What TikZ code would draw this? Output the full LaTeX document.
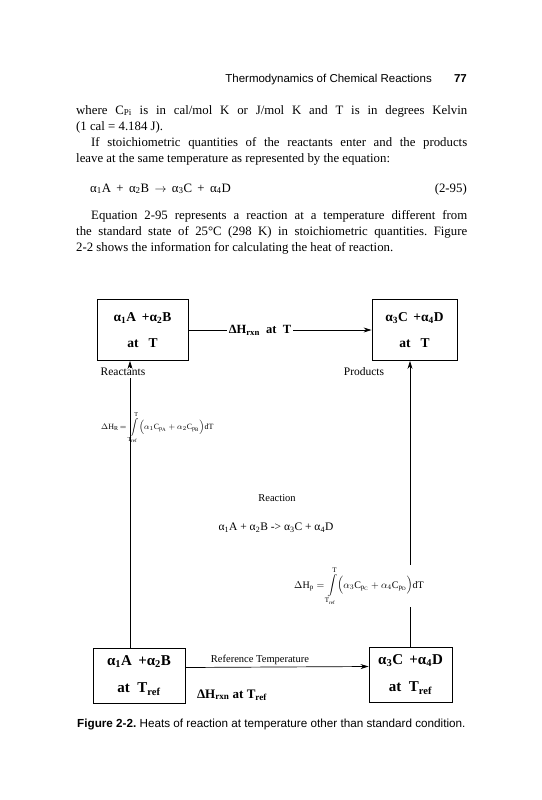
\documentclass[tikz,border=0pt]{standalone}
\usepackage{amsmath}
\usepackage{fontspec}
\setmainfont{Liberation Serif}
\setsansfont{Liberation Sans}
\usetikzlibrary{arrows.meta, positioning, calc}

\newcommand{\fullline}[1]{\makebox[391pt][s]{#1}}
\newcommand{\sub}[1]{\textsubscript{#1}}
\frenchspacing

\begin{document}
\begin{tikzpicture}[x=1pt, y=-1pt,
    every node/.style={inner sep=0pt},
    bodytext/.style={anchor=base west, font=\fontsize{12.8}{16}\selectfont},
    statebox/.style={draw, line width=0.9pt, align=center},
    smalllabel/.style={font=\fontsize{10.5}{12}\selectfont},
    flow/.style={line width=0.7pt},
    flowarrow/.style={flow, -{Stealth[length=8pt, width=5pt]}}]
\useasboundingbox (0,0) rectangle (541,800);

% running head
\node[anchor=base east, font=\sffamily\fontsize{11.5}{13}\selectfont] (head) at (432,82) {Thermodynamics of Chemical Reactions};
\node[anchor=base east, font=\sffamily\bfseries\fontsize{11.5}{13}\selectfont] (page) at (467,82) {77};

% text above the figure
\node[bodytext] (lineA) at (76,114) {\fullline{where C\sub{Pi} is in cal/mol K or J/mol K and T is in degrees Kelvin}};
\node[bodytext] (lineB) at (76,130) {(1 cal = 4.184 J).};
\node[bodytext] (lineC) at (91,146) {\makebox[376pt][s]{If stoichiometric quantities of the reactants enter and the products}};
\node[bodytext] (lineD) at (76,162) {leave at the same temperature as represented by the equation:};
\node[bodytext] (eqn) at (90,192) {α\sub{1}A \,+\, α\sub{2}B \,$\rightarrow$\, α\sub{3}C \,+\, α\sub{4}D};
\node[bodytext, anchor=base east] (eqnum) at (467,192) {(2-95)};
\node[bodytext] (lineE) at (91,219) {\makebox[376pt][s]{Equation 2-95 represents a reaction at a temperature different from}};
\node[bodytext] (lineF) at (76,235) {\fullline{the standard state of 25°C (298 K) in stoichiometric quantities. Figure}};
\node[bodytext] (lineG) at (76,251) {2-2 shows the information for calculating the heat of reaction.};

% the four states
\node[statebox, minimum width=91pt, minimum height=61pt, font=\bfseries\fontsize{13.5}{26}\selectfont] (tl) at (142.5,330) {α\sub{1}A\, +α\sub{2}B\\at\ \ \ T};
\node[statebox, minimum width=85pt, minimum height=61pt, font=\bfseries\fontsize{13.5}{26}\selectfont] (tr) at (414.5,330) {α\sub{3}C\, +α\sub{4}D\\at\ \ \ T};
\node[statebox, minimum width=92pt, minimum height=55pt, font=\bfseries\fontsize{15}{27}\selectfont] (bl) at (139,675.5) {α\sub{1}A\, +α\sub{2}B\\at\ \ T\sub{ref}};
\node[statebox, minimum width=83pt, minimum height=55pt, font=\bfseries\fontsize{15}{27}\selectfont] (br) at (410.5,674.5) {α\sub{3}C\, +α\sub{4}D\\at\ \ T\sub{ref}};

% labels
\node[font=\bfseries\fontsize{12.5}{14}\selectfont] (dht) at (260,330) {ΔH\sub{rxn}\ \ at\ \ T};
\node[smalllabel, font=\fontsize{11.5}{13}\selectfont] (react) at (123,372) {Reactants};
\node[smalllabel, font=\fontsize{11.5}{13}\selectfont] (prod) at (364,372) {Products};
\node[smalllabel] (rxn) at (277,498) {Reaction};
\node[smalllabel, font=\fontsize{11.5}{13}\selectfont] (rxneq) at (276,528) {α\sub{1}A + α\sub{2}B -> α\sub{3}C + α\sub{4}D};
\node[smalllabel] (reft) at (260,660) {Reference Temperature};
\node[font=\bfseries\fontsize{13}{15}\selectfont] (dhref) at (232,695) {ΔH\sub{rxn}\ at\ T\sub{ref}};
\node[font=\fontsize{10}{12}\selectfont] (dhp) at (359,586) {$\Delta\mathrm{H_p} = \displaystyle\int\limits_{\mathrm{T_{ref}}}^{\mathrm{T}}\Bigl(\alpha_3\mathrm{C}_{\mathrm{p_C}} + \alpha_4\mathrm{C}_{\mathrm{p_D}}\Bigr)\mathrm{dT}$};
\node[anchor=west, font=\fontsize{8}{10}\selectfont] (dhr) at (101,428) {$\Delta\mathrm{H_R}\,{=}\,\displaystyle\int\limits_{\mathrm{T_{ref}}}^{\mathrm{T}}\Bigl(\alpha_1\mathrm{C}_{\mathrm{p_A}} + \alpha_2\mathrm{C}_{\mathrm{p_B}}\Bigr)\mathrm{dT}$};

\coordinate (lx) at (130,0);
\coordinate (rx) at (410,0);

% connectors
\draw[flow] (tl.east |- dht.west) -- ([xshift=-2pt]dht.west);
\draw[flowarrow] ([xshift=2pt]dht.east) -- (tr.west |- dht.east);
\draw[flowarrow] ([yshift=8pt]bl.east) -- ([yshift=8pt]br.west);
\draw[flow] (bl.north -| lx) -- ([yshift=-2pt]react.south -| lx);
\draw[flowarrow] (react.north -| lx) -- (tl.south -| lx);
\draw[flow] (br.north -| rx) -- ([yshift=-2pt]dhp.south -| rx);
\draw[flowarrow] ([yshift=2pt]dhp.north -| rx) -- (tr.south -| rx);

% caption
\node[anchor=base west, font=\sffamily\fontsize{11.7}{13}\selectfont] (cap) at (77,727) {\textbf{Figure 2-2.} Heats of reaction at temperature other than standard condition.};
\end{tikzpicture}
\end{document}
